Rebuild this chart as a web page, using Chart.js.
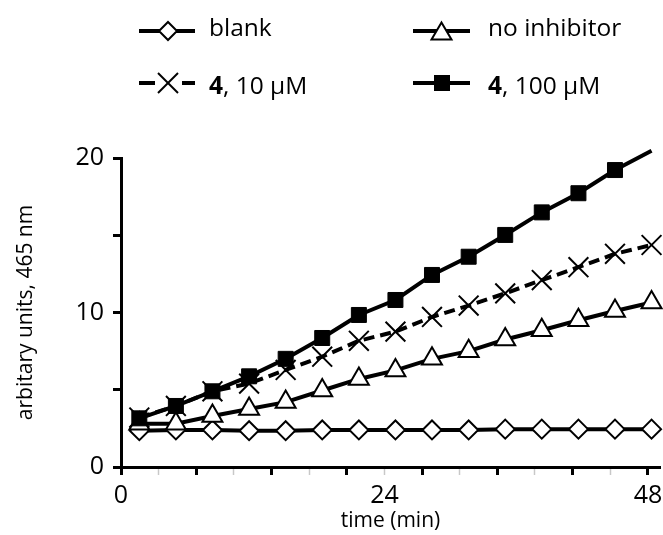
<!DOCTYPE html>
<html><head><meta charset="utf-8">
<script src="https://cdn.jsdelivr.net/npm/chart.js@4.4.1/dist/chart.umd.min.js"></script>
<style>
html,body{margin:0;padding:0;background:#fff;}
#wrap{position:relative;width:663px;height:535px;overflow:hidden;}
#c{position:absolute;left:0;top:0;}
#legend{position:absolute;left:0;top:0;font-family:'Open Sans',sans-serif;}
</style></head><body>
<div id="wrap">
<canvas id="c" width="663" height="535"></canvas>
<svg id="legend" width="663" height="120" xmlns="http://www.w3.org/2000/svg">
  <g stroke="#000" fill="none">
    <line x1="139" y1="31" x2="195" y2="31" stroke-width="4"/>
    <polygon points="159,31 168,22 177,31 168,40" fill="#fff" stroke-width="2"/>
    <line x1="413" y1="31" x2="470" y2="31" stroke-width="4"/>
    <polygon points="441.5,22.5 451.5,39.5 431.5,39.5" fill="#fff" stroke-width="2"/>
    <line x1="139" y1="83" x2="155" y2="83" stroke-width="4"/>
    <line x1="182" y1="83" x2="195" y2="83" stroke-width="4"/>
    <line x1="158" y1="73" x2="178" y2="93" stroke-width="2"/>
    <line x1="158" y1="93" x2="178" y2="73" stroke-width="2"/>
    <line x1="413" y1="83" x2="470" y2="83" stroke-width="4"/>
    <rect x="434.5" y="75.5" width="15" height="15" fill="#000" stroke-width="1"/>
  </g>
  <g font-size="24.5" fill="#000">
    <text x="209" y="36">blank</text>
    <text x="488" y="36">no inhibitor</text>
    <text x="209" y="94"><tspan font-weight="bold">4</tspan>, 10 μM</text>
    <text x="488" y="94"><tspan font-weight="bold">4</tspan>, 100 μM</text>
  </g>
</svg>
</div>
<script>
// ---- data ----
const timeMin = [1.67, 5, 8.33, 11.67, 15, 18.33, 21.67, 25, 28.33, 31.67, 35, 38.33, 41.67, 45, 48.33];
const blank = [2.35, 2.4, 2.4, 2.35, 2.35, 2.4, 2.4, 2.4, 2.4, 2.4, 2.45, 2.45, 2.45, 2.45, 2.45];
const noInhibitor = [2.8, 2.8, 3.3, 3.75, 4.2, 4.95, 5.7, 6.25, 7.0, 7.5, 8.25, 8.85, 9.5, 10.1, 10.65];
const inhib10uM = [3.2, 3.95, 4.9, 5.4, 6.28, 7.14, 8.17, 8.76, 9.71, 10.45, 11.24, 12.1, 12.93, 13.8, 14.37];
const inhib100uM = [3.15, 3.95, 4.9, 5.87, 7.0, 8.35, 9.84, 10.81, 12.43, 13.61, 15.02, 16.48, 17.72, 19.22, 20.47];
const seriesNames = ['blank', 'no inhibitor', '4, 10 μM', '4, 100 μM'];
const xTickValues = [0, 3.43, 6.86, 10.29, 13.71, 17.14, 20.57, 24, 27.43, 30.86, 34.29, 37.71, 41.14, 44.57, 48];
const xTickLabels = ['0', '', '', '', '', '', '', '24', '', '', '', '', '', '', '48'];
const yTickLabels = ['0', '', '10', '', '20'];
const xMin = 0, xMax = 49.1, yMin = 0, yMax = 20;

const pts = vals => timeMin.map((t, i) => ({x: t, y: vals[i]}));

Chart.defaults.font.family = "'Open Sans', sans-serif";
Chart.defaults.color = '#000';

const base = {borderColor: '#000', borderWidth: 4, pointBorderColor: '#000', pointBorderWidth: 2, clip: false, tension: 0};
const noPad = () => ({left: 0, top: 0, right: 0, bottom: 0});

new Chart(document.getElementById('c'), {
  type: 'line',
  data: {
    datasets: [
      Object.assign({}, base, {label: seriesNames[3], data: pts(inhib100uM), order: 1,
        pointStyle: 'rect', pointBackgroundColor: '#000', pointBorderWidth: 1,
        pointRadius: ctx => (ctx.raw && ctx.raw.y > yMax ? 0 : 10.6)}),
      Object.assign({}, base, {label: seriesNames[2], data: pts(inhib10uM), order: 2,
        borderDash: [11, 6], pointStyle: 'crossRot', pointRadius: 14, pointBackgroundColor: '#fff'}),
      Object.assign({}, base, {label: seriesNames[1], data: pts(noInhibitor), order: 3,
        pointStyle: 'triangle', pointRadius: 11.5, pointBackgroundColor: '#fff'}),
      Object.assign({}, base, {label: seriesNames[0], data: pts(blank), order: 4,
        pointStyle: 'rectRot', pointRadius: 9.5, pointBackgroundColor: '#fff'})
    ]
  },
  options: {
    responsive: false,
    animation: false,
    devicePixelRatio: 1,
    layout: {autoPadding: false, padding: {top: 158, right: 3, left: 0, bottom: 0}},
    plugins: {legend: {display: false}, tooltip: {enabled: false}},
    scales: {
      x: {
        type: 'linear', min: xMin, max: xMax,
        afterBuildTicks: s => { s.ticks = xTickValues.map(v => ({value: v})); },
        afterFit: s => { s.height = 68; s.paddingRight = 0; s.paddingLeft = 0; s.getPadding = noPad; },
        ticks: {autoSkip: false, maxRotation: 0, padding: 6, font: {size: 25},
          callback: (v, i) => xTickLabels[i]},
        grid: {drawOnChartArea: false, drawTicks: true, tickLength: 8,
          tickColor: ctx => (ctx.index % 2 ? '#c8c8c8' : '#000'),
          tickWidth: ctx => (ctx.index % 2 ? 1.5 : 3)},
        border: {display: true, color: '#000', width: 3},
        title: {display: true, text: 'time (min)', font: {size: 21}, padding: {top: 0, bottom: 1}}
      },
      y: {
        type: 'linear', min: yMin, max: yMax,
        afterFit: s => { s.width = 121; s.getPadding = noPad; },
        ticks: {stepSize: 5, autoSkip: false, padding: 9, font: {size: 25},
          callback: (v, i) => yTickLabels[i]},
        grid: {drawOnChartArea: false, drawTicks: true, tickLength: 8, tickColor: '#000', tickWidth: 3},
        border: {display: true, color: '#000', width: 3},
        title: {display: true, text: 'arbitary units, 465 nm', font: {size: 21}, padding: {top: 13, bottom: 0}}
      }
    }
  }
});
</script>
</body></html>
